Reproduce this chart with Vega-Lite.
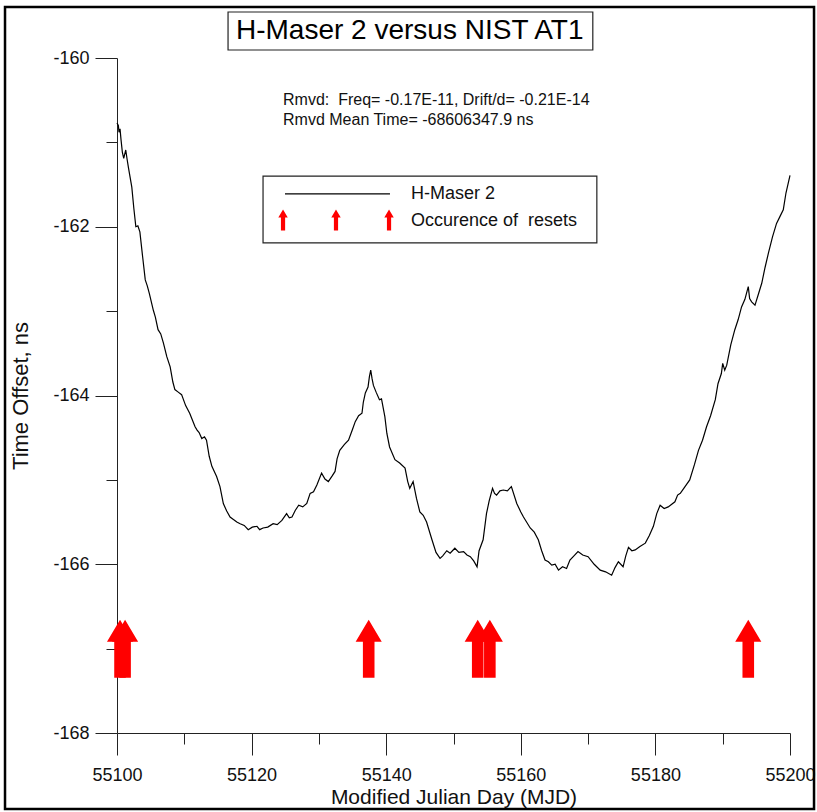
{
  "$schema": "https://vega.github.io/schema/vega-lite/v6.json",
  "width": 673,
  "height": 675,
  "autosize": {"type": "none"},
  "padding": {"left": 117, "top": 58, "right": 27, "bottom": 79},
  "background": "white",
  "config": {"view": {"stroke": null}, "font": "Liberation Sans"},
  "datasets": {
    "line": [
      {"x": 55100.0, "y": -160.77}, {"x": 55100.2, "y": -160.80}, {"x": 55100.3, "y": -160.88}, {"x": 55100.45, "y": -160.84}, {"x": 55100.6, "y": -160.97}, {"x": 55100.8, "y": -161.12}, {"x": 55101.0, "y": -161.19},
      {"x": 55101.3, "y": -161.09}, {"x": 55101.5, "y": -161.20}, {"x": 55101.7, "y": -161.30}, {"x": 55102.2, "y": -161.53}, {"x": 55102.5, "y": -161.78}, {"x": 55102.8, "y": -162.00},
      {"x": 55103.1, "y": -161.99}, {"x": 55103.4, "y": -162.06}, {"x": 55103.8, "y": -162.35}, {"x": 55104.2, "y": -162.63}, {"x": 55104.5, "y": -162.70}, {"x": 55104.8, "y": -162.79},
      {"x": 55105.4, "y": -162.99}, {"x": 55105.7, "y": -163.07}, {"x": 55106.1, "y": -163.22}, {"x": 55106.5, "y": -163.27}, {"x": 55106.9, "y": -163.38}, {"x": 55107.4, "y": -163.54}, {"x": 55107.9, "y": -163.66},
      {"x": 55108.3, "y": -163.84}, {"x": 55108.6, "y": -163.93}, {"x": 55109.1, "y": -163.96}, {"x": 55109.6, "y": -163.99}, {"x": 55110.2, "y": -164.12}, {"x": 55110.8, "y": -164.21}, {"x": 55111.2, "y": -164.29}, {"x": 55111.6, "y": -164.37},
      {"x": 55111.9, "y": -164.41}, {"x": 55112.2, "y": -164.44}, {"x": 55112.6, "y": -164.51}, {"x": 55113.0, "y": -164.49}, {"x": 55113.3, "y": -164.53}, {"x": 55113.7, "y": -164.72}, {"x": 55114.1, "y": -164.84}, {"x": 55114.8, "y": -164.96},
      {"x": 55115.3, "y": -165.08}, {"x": 55115.8, "y": -165.28}, {"x": 55116.3, "y": -165.37}, {"x": 55116.8, "y": -165.44}, {"x": 55117.3, "y": -165.47}, {"x": 55117.8, "y": -165.50},
      {"x": 55118.3, "y": -165.52}, {"x": 55118.9, "y": -165.54}, {"x": 55119.5, "y": -165.59}, {"x": 55120.1, "y": -165.56}, {"x": 55120.8, "y": -165.55}, {"x": 55121.2, "y": -165.59}, {"x": 55121.7, "y": -165.57},
      {"x": 55122.4, "y": -165.56}, {"x": 55123.2, "y": -165.52}, {"x": 55123.8, "y": -165.53}, {"x": 55124.5, "y": -165.48}, {"x": 55125.2, "y": -165.40}, {"x": 55125.6, "y": -165.45}, {"x": 55126.0, "y": -165.44},
      {"x": 55126.5, "y": -165.36}, {"x": 55127.0, "y": -165.30}, {"x": 55127.6, "y": -165.32}, {"x": 55128.2, "y": -165.28}, {"x": 55128.7, "y": -165.16}, {"x": 55129.2, "y": -165.14}, {"x": 55129.7, "y": -165.06},
      {"x": 55130.4, "y": -164.92}, {"x": 55130.9, "y": -164.99}, {"x": 55131.4, "y": -165.02}, {"x": 55132.0, "y": -164.95}, {"x": 55132.4, "y": -164.90}, {"x": 55132.7, "y": -164.75}, {"x": 55133.1, "y": -164.65},
      {"x": 55133.8, "y": -164.58}, {"x": 55134.4, "y": -164.53}, {"x": 55135.0, "y": -164.40}, {"x": 55135.4, "y": -164.31}, {"x": 55135.9, "y": -164.24}, {"x": 55136.4, "y": -164.21}, {"x": 55136.6, "y": -164.08}, {"x": 55136.9, "y": -163.97},
      {"x": 55137.3, "y": -163.90}, {"x": 55137.5, "y": -163.78}, {"x": 55137.7, "y": -163.70}, {"x": 55137.9, "y": -163.80}, {"x": 55138.1, "y": -163.88}, {"x": 55138.5, "y": -163.96}, {"x": 55139.0, "y": -164.05},
      {"x": 55139.3, "y": -164.04}, {"x": 55139.8, "y": -164.25}, {"x": 55140.1, "y": -164.45}, {"x": 55140.5, "y": -164.61}, {"x": 55141.3, "y": -164.76}, {"x": 55142.0, "y": -164.80}, {"x": 55142.8, "y": -164.86},
      {"x": 55143.2, "y": -165.02}, {"x": 55143.5, "y": -165.10}, {"x": 55144.0, "y": -165.02}, {"x": 55144.5, "y": -165.22}, {"x": 55145.0, "y": -165.38}, {"x": 55145.5, "y": -165.42}, {"x": 55146.0, "y": -165.50},
      {"x": 55146.8, "y": -165.71}, {"x": 55147.4, "y": -165.86}, {"x": 55148.0, "y": -165.93}, {"x": 55148.4, "y": -165.90}, {"x": 55149.0, "y": -165.84}, {"x": 55149.5, "y": -165.87}, {"x": 55150.2, "y": -165.81},
      {"x": 55150.8, "y": -165.86}, {"x": 55151.5, "y": -165.85}, {"x": 55152.0, "y": -165.89}, {"x": 55152.5, "y": -165.91}, {"x": 55153.0, "y": -165.96}, {"x": 55153.5, "y": -166.03}, {"x": 55153.8, "y": -165.84}, {"x": 55154.4, "y": -165.71},
      {"x": 55154.9, "y": -165.40}, {"x": 55155.3, "y": -165.25}, {"x": 55155.8, "y": -165.10}, {"x": 55156.1, "y": -165.16}, {"x": 55156.4, "y": -165.18}, {"x": 55156.9, "y": -165.13}, {"x": 55157.4, "y": -165.12},
      {"x": 55158.0, "y": -165.13}, {"x": 55158.6, "y": -165.08}, {"x": 55159.4, "y": -165.28}, {"x": 55160.0, "y": -165.38}, {"x": 55160.4, "y": -165.44}, {"x": 55161.4, "y": -165.57},
      {"x": 55162.0, "y": -165.62}, {"x": 55162.6, "y": -165.71}, {"x": 55163.1, "y": -165.84}, {"x": 55163.6, "y": -165.95}, {"x": 55164.1, "y": -165.97}, {"x": 55164.6, "y": -166.01}, {"x": 55165.1, "y": -166.00}, {"x": 55165.6, "y": -166.07},
      {"x": 55166.2, "y": -166.03}, {"x": 55166.8, "y": -166.05}, {"x": 55167.3, "y": -165.95}, {"x": 55167.9, "y": -165.90}, {"x": 55168.5, "y": -165.85}, {"x": 55169.2, "y": -165.89}, {"x": 55170.0, "y": -165.91},
      {"x": 55170.9, "y": -166.00}, {"x": 55171.8, "y": -166.07}, {"x": 55172.6, "y": -166.09}, {"x": 55173.5, "y": -166.13}, {"x": 55174.0, "y": -166.04}, {"x": 55174.5, "y": -165.97}, {"x": 55175.2, "y": -166.03},
      {"x": 55175.6, "y": -165.90}, {"x": 55176.0, "y": -165.80}, {"x": 55176.5, "y": -165.84}, {"x": 55177.0, "y": -165.83}, {"x": 55177.7, "y": -165.79}, {"x": 55178.5, "y": -165.75}, {"x": 55179.1, "y": -165.66}, {"x": 55179.7, "y": -165.55},
      {"x": 55180.2, "y": -165.40}, {"x": 55180.7, "y": -165.30}, {"x": 55181.3, "y": -165.34}, {"x": 55181.9, "y": -165.32}, {"x": 55182.9, "y": -165.26}, {"x": 55183.3, "y": -165.18}, {"x": 55183.7, "y": -165.16},
      {"x": 55184.4, "y": -165.08}, {"x": 55185.1, "y": -165.00}, {"x": 55185.8, "y": -164.82}, {"x": 55186.4, "y": -164.65}, {"x": 55187.0, "y": -164.53}, {"x": 55187.6, "y": -164.37}, {"x": 55188.2, "y": -164.24}, {"x": 55188.9, "y": -164.05},
      {"x": 55189.3, "y": -163.86}, {"x": 55189.8, "y": -163.74}, {"x": 55190.0, "y": -163.62}, {"x": 55190.3, "y": -163.70}, {"x": 55190.6, "y": -163.64}, {"x": 55191.2, "y": -163.40}, {"x": 55191.8, "y": -163.22}, {"x": 55192.3, "y": -163.10}, {"x": 55192.8, "y": -162.95},
      {"x": 55193.3, "y": -162.86}, {"x": 55193.8, "y": -162.71}, {"x": 55194.0, "y": -162.85}, {"x": 55194.3, "y": -162.89}, {"x": 55194.8, "y": -162.93}, {"x": 55195.3, "y": -162.80}, {"x": 55195.8, "y": -162.67},
      {"x": 55196.3, "y": -162.48}, {"x": 55196.8, "y": -162.31}, {"x": 55197.4, "y": -162.12}, {"x": 55198.0, "y": -161.96}, {"x": 55198.5, "y": -161.88}, {"x": 55199.0, "y": -161.80}, {"x": 55199.4, "y": -161.60},
      {"x": 55200.0, "y": -161.39}
    ],
    "resets": [
      {"x": 55100.45, "y": -167.0}, {"x": 55101.2, "y": -167.0}, {"x": 55137.4, "y": -167.0},
      {"x": 55153.6, "y": -167.0}, {"x": 55155.4, "y": -167.0}, {"x": 55193.8, "y": -167.0}
    ],
    "frame": [{"x": 55083.36, "x2": 55203.57, "y": -159.396, "y2": -168.9}],
    "titlebox": [{"x": 55116.5, "x2": 55170.7, "y": -159.455, "y2": -159.905}],
    "titletext": [{"x": 55143.5, "y": -159.68, "label": "H-Maser 2 versus NIST AT1"}],
    "notes": [
      {"x": 55124.67, "y": -160.50, "label": "Rmvd:\u00a0 Freq= -0.17E-11, Drift/d= -0.21E-14"},
      {"x": 55124.67, "y": -160.73, "label": "Rmvd Mean Time= -68606347.9 ns"}
    ],
    "legbox": [{"x": 55121.7, "x2": 55171.3, "y": -161.40, "y2": -162.19}],
    "legline": [{"x": 55124.96, "x2": 55140.56, "y": -161.61}],
    "legarrows": [{"x": 55124.67, "y": -161.92}, {"x": 55132.54, "y": -161.92}, {"x": 55140.42, "y": -161.92}],
    "legtext": [
      {"x": 55143.68, "y": -161.61, "label": "H-Maser 2"},
      {"x": 55143.68, "y": -161.93, "label": "Occurence of\u00a0 resets"}
    ]
  },
  "encoding": {
    "x": {
      "field": "x", "type": "quantitative",
      "scale": {"domain": [55100, 55200], "nice": false, "zero": false},
      "axis": {
        "title": "Modified Julian Day (MJD)",
        "values": [55100, 55110, 55120, 55130, 55140, 55150, 55160, 55170, 55180, 55190, 55200],
        "labelExpr": "datum.value % 20 === 0 ? '' + datum.value : ''",
        "tickSize": {"condition": {"test": "datum.value % 20 === 0", "value": 22}, "value": 11},
        "grid": false,
        "domainColor": "#222222", "tickColor": "#222222", "labelColor": "#111111", "titleColor": "#111111",
        "labelFontSize": 18, "titleFontSize": 21, "titleFontWeight": "normal",
        "labelPadding": 11, "titlePadding": 2, "labelFlush": false, "labelOverlap": false
      }
    },
    "y": {
      "field": "y", "type": "quantitative",
      "scale": {"domain": [-168, -160], "nice": false, "zero": false},
      "axis": {
        "title": "Time Offset, ns",
        "values": [-168, -167, -166, -165, -164, -163, -162, -161, -160],
        "labelExpr": "datum.value % 2 === 0 ? '' + datum.value : ''",
        "tickSize": {"condition": {"test": "datum.value % 2 === 0", "value": 22}, "value": 11},
        "grid": false,
        "domainColor": "#222222", "tickColor": "#222222", "labelColor": "#111111", "titleColor": "#111111",
        "labelFontSize": 18, "titleFontSize": 22, "titleFontWeight": "normal",
        "labelPadding": 6, "titlePadding": 20, "labelOverlap": false
      }
    }
  },
  "layer": [
    {
      "data": {"name": "frame"},
      "mark": {"type": "rect", "fill": "white", "fillOpacity": 0, "stroke": "black", "strokeWidth": 2.5},
      "encoding": {"x2": {"field": "x2"}, "y2": {"field": "y2"}}
    },
    {
      "data": {"name": "titlebox"},
      "mark": {"type": "rect", "fill": "white", "stroke": "#222222", "strokeWidth": 1.2},
      "encoding": {"x2": {"field": "x2"}, "y2": {"field": "y2"}}
    },
    {
      "data": {"name": "titletext"},
      "mark": {"type": "text", "fontSize": 28, "align": "center", "baseline": "middle", "color": "black"},
      "encoding": {"text": {"field": "label"}}
    },
    {
      "data": {"name": "line"},
      "mark": {"type": "line", "color": "black", "strokeWidth": 1.2}
    },
    {
      "data": {"name": "resets"},
      "mark": {"type": "point", "shape": "M0,-1L0.45,-0.24L0.2,-0.24L0.2,1L-0.2,1L-0.2,-0.24L-0.45,-0.24Z", "size": 3364, "filled": true, "color": "#ff0000", "opacity": 1, "strokeWidth": 0}
    },
    {
      "data": {"name": "notes"},
      "mark": {"type": "text", "fontSize": 16, "align": "left", "baseline": "middle", "color": "#111111"},
      "encoding": {"text": {"field": "label"}}
    },
    {
      "data": {"name": "legbox"},
      "mark": {"type": "rect", "fill": "white", "stroke": "#222222", "strokeWidth": 1.2},
      "encoding": {"x2": {"field": "x2"}, "y2": {"field": "y2"}}
    },
    {
      "data": {"name": "legline"},
      "mark": {"type": "rule", "color": "black", "strokeWidth": 1.2},
      "encoding": {"x2": {"field": "x2"}}
    },
    {
      "data": {"name": "legarrows"},
      "mark": {"type": "point", "shape": "M0,-1L0.45,-0.24L0.2,-0.24L0.2,1L-0.2,1L-0.2,-0.24L-0.45,-0.24Z", "size": 440, "filled": true, "color": "#ff0000", "opacity": 1, "strokeWidth": 0}
    },
    {
      "data": {"name": "legtext"},
      "mark": {"type": "text", "fontSize": 18, "align": "left", "baseline": "middle", "color": "#111111"},
      "encoding": {"text": {"field": "label"}}
    }
  ]
}
